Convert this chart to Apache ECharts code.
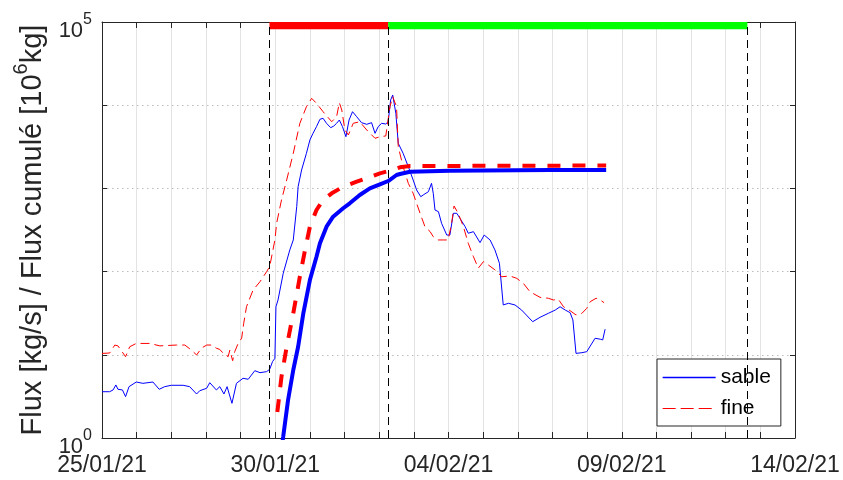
<!DOCTYPE html>
<html><head><meta charset="utf-8">
<script src="https://cdn.jsdelivr.net/npm/echarts@6/dist/echarts.min.js"></script>
<style>html,body{margin:0;padding:0;background:#fff}#c{width:843px;height:480px}</style>
</head><body><div id="c"></div>
<script>
// ---- data (x = days since 25/01/21 00:00) ----
const startDate = '2021-01-25T00:00:00Z';
const axisSpanDays = 20;
const xTickLabels = ['25/01/21', '30/01/21', '04/02/21', '09/02/21', '14/02/21'];
const yTickLabels = ['0', '', '', '', '', '5'];
const phaseDates = ['2021-01-29T20:00:00Z', '2021-02-02T06:15:00Z', '2021-02-12T15:00:00Z'];
const legendNames = ['sable', 'fine'];

const sableDays = [0.00,0.22,0.32,0.40,0.46,0.59,0.68,0.78,0.99,1.18,
  1.47,1.65,1.81,2.00,2.34,2.53,2.73,2.82,3.02,3.11,
  3.30,3.40,3.52,3.61,3.75,3.88,4.07,4.22,4.41,4.56,
  4.75,4.84,4.92,4.99,5.02,5.08,5.23,5.42,5.52,5.62,
  5.66,5.76,5.90,6.00,6.09,6.19,6.29,6.38,6.48,6.60,
  6.69,6.77,6.85,6.94,7.04,7.13,7.23,7.35,7.49,7.64,
  7.78,7.88,7.97,8.07,8.19,8.26,8.33,8.39,8.48,8.55,
  8.69,8.84,8.98,9.08,9.20,9.27,9.42,9.51,9.56,9.61,
  9.71,9.80,9.95,10.04,10.14,10.24,10.33,10.48,10.57,10.72,
  10.91,11.03,11.20,11.34,11.47,11.58,11.73,11.92,12.11,12.43,
  12.64,12.88,13.08,13.22,13.37,13.51,13.59,13.68,13.85,13.99,
  14.23,14.38,14.45,14.52];
const sableFlux = [3.6,3.6,3.78,4.34,3.85,3.78,3.14,4.14,4.71,4.54,
  4.71,3.85,4.14,4.30,4.30,4.14,3.38,3.70,3.96,4.62,
  3.78,4.14,3.38,4.14,2.61,4.54,5.22,5.08,6.44,6.10,
  6.27,6.70,8.26,9.08,37.8,45.6,95.4,182,240,603,
  1048,1664,2642,3818,4593,5519,6772,6960,6057,5370,
  5623,6057,6637,5519,4182,6637,8356,7278,6166,5891,
  6166,4593,5519,6057,5943,6336,11550,13270,7993,3483,
  2642,1823,1262,957,795,834,913,1151,873,550,
  525,381,275,275,502,502,437,347,289,302,
  223,275,240,182,126,39.7,41.6,39.7,34.5,25.0,
  28.2,31.5,34.5,37.8,34.5,32.1,26.2,10.4,10.6,10.9,
  15.8,15.4,15.1,20.3];

const fineDays = [0.00,0.22,0.37,0.46,0.68,0.80,0.99,1.38,1.67,2.15,
  2.39,2.58,2.73,2.87,3.02,3.16,3.30,3.40,3.50,3.54,
  3.64,3.69,3.77,3.83,3.93,4.03,4.09,4.17,4.36,4.56,
  4.75,4.84,4.99,5.04,5.18,5.33,5.52,5.71,5.90,6.05,
  6.19,6.38,6.63,6.77,6.85,6.92,7.01,7.11,7.25,7.44,
  7.64,7.88,8.02,8.19,8.31,8.39,8.50,8.55,8.69,8.84,
  8.98,9.18,9.32,9.47,9.56,9.71,9.85,9.99,10.09,10.16,
  10.28,10.43,10.57,10.72,10.86,11.01,11.15,11.34,11.54,11.78,
  11.97,12.16,12.35,12.64,12.88,13.03,13.17,13.32,13.51,13.68,
  13.85,13.99,14.09,14.26,14.38,14.49];
const fineFlux = [10.4,10.5,13.1,12.8,9.49,12.5,13.7,13.7,12.8,13.1,
  13.1,11.4,9.95,12.0,13.1,13.1,12.0,11.6,10.4,10.9,
  9.49,11.4,8.49,10.9,13.7,15.8,23.9,37.8,60.1,75.6,
  99.7,115,240,381,726,1262,2642,6057,9594,12100,
  10540,8356,6336,7278,10720,8750,5032,4385,6057,6336,
  5032,4000,4182,4266,9594,12650,9594,3170,1823,1151,
  873,502,347,302,263,240,240,240,381,614,
  502,347,219,151,110,132,120,105,86.8,88.5,
  83.0,72.3,57.3,49.1,47.8,45.6,46.5,37.8,33.9,30.1,
  31.5,36.2,43.5,47.8,45.6,42.3];

const cumSableDays = [5.20,5.23,5.37,5.52,5.66,5.81,6.00,6.19,6.29,6.48,6.67,6.96,7.15,7.44,7.73,8.02,8.26,8.50,8.60,8.89,10.04,12.93,14.55];
const cumSable = [0.85,1.04,2.86,6.57,12.5,31.5,79.2,151,219,347,457,577,662,834,1002,1120,1227,1449,1490,1588,1633,1664,1665];

const cumFineDays = [5.06,5.18,5.33,5.52,5.71,5.86,6.00,6.19,6.38,6.63,6.96,7.35,7.64,8.02,8.31,8.60,8.89,14.55];
const cumFine = [2.05,5.46,12.5,31.5,86.8,182,347,550,726,873,1048,1205,1322,1518,1633,1794,1858,1884];

// ---- build ----
const DAY = 86400000;
const t0 = Date.parse(startDate);
const phaseDays = phaseDates.map(d => (Date.parse(d) - t0) / DAY);
const pair = (xs, ys) => xs.map((x, i) => [x, ys[i]]);
const AX = '#262626';
const FONT = "'Liberation Sans', Arial, Helvetica, sans-serif";
const BLUE = '#0000ff', RED = '#ff0000', GREEN = '#00ff00';
const barBottom = Math.pow(10, 5 - 0.088);

const axisLineStyle = {show: true, onZero: false, lineStyle: {color: AX, width: 1}};
const xBase = {type: 'value', min: 0, max: axisSpanDays, interval: 1};
const yBase = {type: 'log', logBase: 10, min: 1, max: 100000};

const chart = echarts.init(document.getElementById('c'), null, {renderer: 'canvas'});
chart.setOption({
  animation: false,
  backgroundColor: '#ffffff',
  grid: {left: 102, top: 22, right: 48, bottom: 42, containLabel: false, outerBoundsMode: 'none'},
  xAxis: [
    Object.assign({}, xBase, {
      position: 'bottom',
      axisLine: axisLineStyle,
      axisTick: {show: true, inside: true, length: 6, lineStyle: {color: AX}},
      axisLabel: {
        margin: 16, fontSize: 23, fontFamily: FONT, color: AX,
        showMinLabel: true, showMaxLabel: true,
        formatter: v => (Math.round(v) % 5 === 0 ? (xTickLabels[Math.round(v) / 5] || '') : '')
      },
      splitLine: {show: true, lineStyle: {color: '#e3e3e3', width: 1}}
    }),
    Object.assign({}, xBase, {
      position: 'top',
      axisLine: axisLineStyle,
      axisTick: {show: true, inside: true, length: 6, lineStyle: {color: AX}},
      axisLabel: {show: false},
      splitLine: {show: false}
    })
  ],
  yAxis: [
    Object.assign({}, yBase, {
      position: 'left',
      axisLine: axisLineStyle,
      axisTick: {show: true, inside: true, length: 5, lineStyle: {color: AX}},
      axisLabel: {
        margin: 10,
        fontSize: 22, fontFamily: FONT, color: AX,
        padding: [10, 0, 0, 0],
        formatter: v => {
          const e = Math.round(Math.log10(v));
          const s = yTickLabels[e];
          return s ? '{b|10}{s|' + s + '}' : '';
        },
        rich: {
          b: {fontSize: 22, lineHeight: 30, verticalAlign: 'bottom', fontFamily: FONT, color: AX},
          s: {fontSize: 16, lineHeight: 16, verticalAlign: 'top', fontFamily: FONT, color: AX}
        }
      },
      splitLine: {show: true, lineStyle: {color: '#bdbdbd', width: 1, type: [1.5, 3.5]}},
      name: '{a|Flux [kg/s] / Flux cumulé [10}{s|6}{a|kg]}',
      nameLocation: 'middle',
      nameGap: 40,
      nameTextStyle: {
        rich: {
          a: {fontSize: 29, lineHeight: 36, fontFamily: FONT, color: AX, verticalAlign: 'bottom'},
          s: {fontSize: 20, lineHeight: 22, fontFamily: FONT, color: AX, verticalAlign: 'top'}
        }
      }
    }),
    Object.assign({}, yBase, {
      position: 'right',
      axisLine: axisLineStyle,
      axisTick: {show: true, inside: true, length: 5, lineStyle: {color: AX}},
      axisLabel: {show: false},
      splitLine: {show: false}
    })
  ],
  legend: {
    orient: 'vertical', left: 657, top: 359,
    data: [
      {name: legendNames[0], lineStyle: {color: BLUE, width: 1.3, type: 'solid'}},
      {name: legendNames[1], lineStyle: {color: RED, width: 1.2, type: [13, 5]}}
    ],
    itemWidth: 53, itemHeight: 20, itemGap: 10,
    itemStyle: {opacity: 0},
    padding: [8, 10, 7, 5],
    backgroundColor: '#ffffff', borderColor: AX, borderWidth: 1, borderRadius: 0,
    textStyle: {fontSize: 21, fontFamily: FONT, color: '#000', lineHeight: 20},
    selectedMode: false
  },
  series: [
    {
      name: 'phases', type: 'line', data: [], symbol: 'none', silent: true, z: 2,
      markArea: {
        silent: true,
        data: [
          [{xAxis: phaseDays[0], yAxis: barBottom, itemStyle: {color: RED, opacity: 1}}, {xAxis: phaseDays[1], yAxis: 100000}],
          [{xAxis: phaseDays[1], yAxis: barBottom, itemStyle: {color: GREEN, opacity: 1}}, {xAxis: phaseDays[2], yAxis: 100000}]
        ]
      },
      markLine: {
        silent: true, symbol: ['none', 'none'], label: {show: false},
        lineStyle: {color: '#000', width: 1, type: [8, 5]},
        emphasis: {disabled: true},
        data: phaseDays.map(d => ({xAxis: d}))
      }
    },
    {
      name: legendNames[0], type: 'line', data: pair(sableDays, sableFlux),
      symbol: 'none', showSymbol: false, silent: true, color: BLUE,
      lineStyle: {color: BLUE, width: 1}, itemStyle: {color: BLUE},
      emphasis: {disabled: true}, z: 3
    },
    {
      name: legendNames[1], type: 'line', data: pair(fineDays, fineFlux),
      symbol: 'none', showSymbol: false, silent: true, color: RED,
      lineStyle: {color: RED, width: 1, type: [9, 5]}, itemStyle: {color: RED},
      emphasis: {disabled: true}, z: 3
    },
    {
      name: 'sable cumulé', type: 'line', data: pair(cumSableDays, cumSable),
      symbol: 'none', showSymbol: false, silent: true, color: BLUE,
      lineStyle: {color: BLUE, width: 4}, itemStyle: {color: BLUE},
      emphasis: {disabled: true}, z: 4
    },
    {
      name: 'fine cumulé', type: 'line', data: pair(cumFineDays, cumFine),
      symbol: 'none', showSymbol: false, silent: true, color: RED,
      lineStyle: {color: RED, width: 4, type: [13, 12], cap: 'butt'}, itemStyle: {color: RED},
      emphasis: {disabled: true}, z: 4
    }
  ]
});
</script>
</body></html>
